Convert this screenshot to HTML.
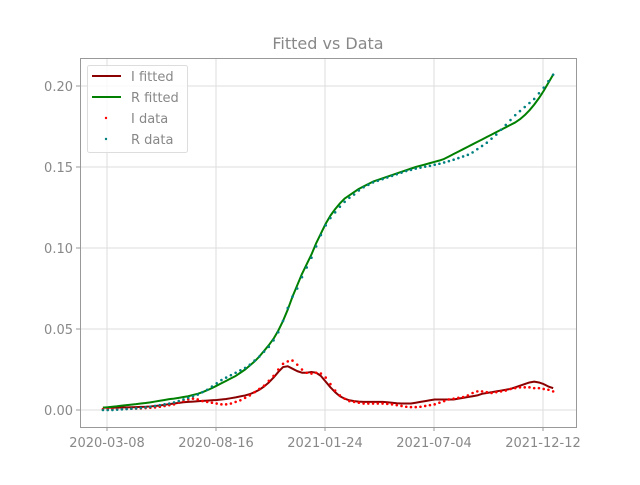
<!DOCTYPE html>
<html><head><meta charset="utf-8"><style>
body{margin:0;background:#fff}
svg text{font-family:"DejaVu Sans","Liberation Sans",sans-serif;fill:#888}
</style></head><body>
<svg id="chart" width="640" height="480" xmlns="http://www.w3.org/2000/svg">
<rect width="640" height="480" fill="#fff"/>
<g id="grid"></g>
<g id="series"></g>
<rect x="80.5" y="58.5" width="496" height="369" fill="none" stroke="#999" stroke-width="1"/>
<g id="ticks"></g>
<text x="328" y="49" text-anchor="middle" font-size="16">Fitted vs Data</text>
<g>
<rect x="87.5" y="65.5" width="100" height="87" rx="2" fill="#fff" fill-opacity="0.8" stroke="#ddd"/>
<g><line x1="92" y1="76" x2="121" y2="76" stroke="#8b0000" stroke-width="2"/><text x="131" y="81" font-size="13">I fitted</text></g>
<g><line x1="92" y1="97" x2="121" y2="97" stroke="#008000" stroke-width="2"/><text x="131" y="102" font-size="13">R fitted</text></g>
<g><circle cx="106" cy="118" r="1.2" fill="red"/><text x="131" y="123" font-size="13">I data</text></g>
<g><circle cx="106" cy="139" r="1.2" fill="#008080"/><text x="131" y="144" font-size="13">R data</text></g>
</g>
</svg>
<script>
const tickLabels=["2020-03-08","2020-08-16","2021-01-24","2021-07-04","2021-12-12"];
const tickDays=[0,161,322,483,644];
const yTicks=[0,0.05,0.10,0.15,0.20];
const startDay=-6, stepDays=7;
const iData=[0.5,0.5,0.5,0.5,0.6,0.7,0.8,0.9,1.0,1.2,1.4,
1.6,2,2.5,3,3.5,4.5,5.5,6.5,7,6.5,
5.5,5,4.5,4,3.5,3.5,4,5,6,7.5,
9,11,13,15,18,21,25,28.5,30,30.5,
28,25,23,22.5,23,22.5,20,16,12,9,
7,5.5,5,4.5,4,4,4,4,4,3.8,
3.5,3,2.5,2,1.8,1.8,2,2.5,3,3.5,
4.5,5.5,6.5,7,7.5,8,9,10.5,11.5,11.5,
11,10.5,11,11.5,12,13,13.5,14,14,14,
13.5,13.5,13,12.5,11.5];
const rData=[0,0,0,0.2,0.4,0.6,0.8,1.0,1.3,1.6,2.0,
2.5,3,3.5,4,4.7,5.5,6.5,7.5,8.5,9.5,
11,12.5,14.5,16.5,18.5,20,21.5,23,24.5,26,
28,30.5,33,36,39,43,48,55,63,70,
75,82,88,94,101,108,114,118.5,122,
125.5,128.5,131,133,135.5,137.5,139,140.5,141.5,142.5,
143.5,144.5,145.5,146.5,147.5,148.2,149,149.6,150.2,150.7,
151.4,152,152.8,153.6,154.5,155.5,156.5,157.5,159,161,
163,165,167.5,170,173,176,179,182,184.5,187,
189.5,192,195.5,199,203,207];
const iFit=[1.5,1.5,1.5,1.5,1.6,1.6,1.7,1.8,1.9,2,2.2,
2.5,2.8,3.2,3.6,4,4.4,4.8,5,5.2,5.4,
5.6,5.8,6,6.2,6.5,6.8,7.3,7.8,8.4,9,
9.8,11,12.5,14.5,17,20,23.5,26.5,27,25.5,
24,23,23,23.5,23,21,17.5,14,11,8.5,
7,6,5.5,5.2,5,5,5,5,5,4.8,
4.5,4.2,4,4,4,4.5,5,5.5,6,6.5,
6.5,6.5,6.5,6.5,7,7.5,8,8.5,9,10,
10.5,11,11.5,12,12.5,13,14,15,16,17,
17.5,17,16,14.5,13.5];
const rFit=[1.5,1.7,2,2.3,2.7,3,3.3,3.6,4,4.3,4.7,
5.2,5.7,6.2,6.7,7,7.5,8,8.5,9.3,10,
11,12.2,13.5,15,16.5,18,19.5,21,23,25,
27.5,30,33,36.5,40,44,49,55,62,70,
77,84,90,96,103,109,115,120,124,
127.5,130.5,132.5,134.5,136.5,138,139.5,141,142,143,
144,145,146,147,148,149,150,150.8,151.6,152.4,
153.2,154,155,156.5,158,159.5,161,162.5,164,165.5,
167,168.5,170,171.5,173,174.5,176,177.5,179.5,182,
185,188.5,192.5,197,202,207];
const NS='http://www.w3.org/2000/svg';
const xs=d=>107+d*109/161;
const ys=v=>410-v*1620;
const xi=i=>xs(startDay+stepDays*i);
const grid=document.getElementById('grid'),ticks=document.getElementById('ticks'),ser=document.getElementById('series');
function mk(tag,attrs,parent){const e=document.createElementNS(NS,tag);for(const k in attrs)e.setAttribute(k,attrs[k]);parent.appendChild(e);return e;}
tickDays.forEach((d,k)=>{const x=xs(d);
 const g=mk('line',{x1:x,x2:x,y1:58,y2:427,stroke:'#ddd'},grid);
 
 
 const t=mk('line',{x1:x,x2:x,y1:427,y2:431,stroke:'#999'},ticks);
 
 
 const l=mk('text',{x:x,y:447,'text-anchor':'middle','font-size':13},ticks);l.textContent=tickLabels[k];
 
 
});
yTicks.forEach(v=>{const y=ys(v);
 const g=mk('line',{x1:80,x2:576,y1:y,y2:y,stroke:'#ddd'},grid);
 
 
 const t=mk('line',{x1:76,x2:80,y1:y,y2:y,stroke:'#999'},ticks);
 
 
 const l=mk('text',{x:73,y:y+5,'text-anchor':'end','font-size':13},ticks);l.textContent=v.toFixed(2);
 
 
});
function line(arr,color,name){const p=mk('polyline',{points:arr.map((v,i)=>xi(i)+','+ys(v/1000)).join(' '),fill:'none',stroke:color,'stroke-width':2,'stroke-linejoin':'round'},ser);
 
 }
function dots(arr,color,name){arr.forEach((v,i)=>{const c=mk('circle',{cx:xi(i),cy:ys(v/1000),r:1.3,fill:color},ser);
 
 });}
line(iFit,'#8b0000','i-fitted-line');
line(rFit,'#008000','r-fitted-line');
dots(iData,'red','i-data-point');
dots(rData,'#008080','r-data-point');
</script>
</body></html>
